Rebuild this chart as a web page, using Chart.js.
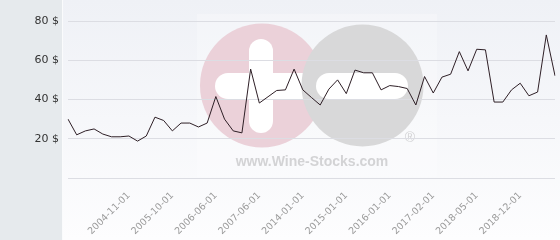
<!DOCTYPE html>
<html>
<head>
<meta charset="utf-8">
<script src="https://cdn.jsdelivr.net/npm/chart.js@4"></script>
<style>
  html, body { margin: 0; padding: 0; background: #fff; }
  #wrap { width: 560px; height: 240px; position: relative; }
</style>
</head>
<body>
<div id="wrap"><canvas id="priceChart"></canvas></div>
<script>
// Dates of each quote (irregular spacing)
const dates = [
    '2003-09-01', '2003-11-01', '2004-01-01', '2004-03-01', '2004-05-01', '2004-07-01', '2004-09-01', '2004-11-01',
    '2005-01-01', '2005-03-01', '2005-05-01', '2005-07-01', '2005-10-01',
    '2005-12-01', '2006-01-01', '2006-03-01', '2006-04-01', '2006-06-01',
    '2006-08-01', '2006-11-01', '2007-01-01', '2007-04-01', '2007-06-01',
    '2007-09-01', '2008-01-01', '2010-06-01', '2012-06-01', '2014-01-01',
    '2014-03-01', '2014-06-01', '2014-08-01', '2014-10-01', '2015-01-01',
    '2015-03-01', '2015-05-01', '2015-08-01', '2015-10-01', '2016-01-01',
    '2016-04-01', '2016-06-01', '2016-09-01', '2016-11-01', '2017-02-01',
    '2017-05-01', '2017-08-01', '2017-11-01', '2018-02-01', '2018-05-01',
    '2018-06-01', '2018-08-01', '2018-09-01', '2018-11-01', '2018-12-01',
    '2019-02-01', '2019-04-01', '2019-06-01', '2019-08-01'
];

// Price in $
const prices = [
    30, 22, 24, 25, 22.4, 21, 21, 21.4, 18.8, 21.4,
    31, 29.3, 24, 28, 28, 26, 28, 41.5, 30, 24,
    23, 55.5, 38.2, 41.4, 44.6, 44.9, 55.5, 44.9, 41, 37.2,
    45.3, 50, 43, 55, 53.6, 53.6, 44.9, 47.1, 46.6, 45.6,
    37.2, 51.7, 43.3, 51.4, 52.9, 64.4, 54.6, 65.6, 65.3, 38.7,
    38.7, 44.9, 48.3, 41.9, 43.8, 72.9, 52.1
];

// Dates that get a label on the x axis
const shownDates = [
    '2004-11-01', '2005-10-01', '2006-06-01', '2007-06-01', '2014-01-01',
    '2015-01-01', '2016-01-01', '2017-02-01', '2018-05-01', '2018-12-01'
];

const yTicks = [0, 20, 40, 60, 80];

// Background panels + watermark, painted under the grid
const backdrop = {
    id: 'backdrop',
    beforeDraw(chart) {
        const c = chart.ctx;
        const w = chart.width, h = chart.height;
        c.save();
        const g = c.createLinearGradient(0, 0, 0, h);
        g.addColorStop(0, '#eff1f6');
        g.addColorStop(1, '#fdfdfe');
        c.fillStyle = g;
        c.fillRect(0, 0, w, h);
        c.fillStyle = '#e6eaed';
        c.fillRect(0, 0, 62, h);
        c.fillStyle = '#fafbfc';
        c.fillRect(62, 0, 1, h);

        // watermark
        c.fillStyle = 'rgba(255,255,255,0.25)';
        c.fillRect(197, 14, 240, 163);
        c.fillStyle = '#ebd1d9';
        c.beginPath(); c.arc(262, 85.5, 62, 0, Math.PI * 2); c.fill();
        c.fillStyle = '#ffffff';
        roundRect(c, 249, 39, 24, 94, 12);
        roundRect(c, 215, 73, 100, 26, 13);
        c.fillStyle = '#d8d8d9';
        c.beginPath(); c.arc(362.5, 85.5, 61, 0, Math.PI * 2); c.fill();
        c.fillStyle = '#ffffff';
        roundRect(c, 316, 73, 92, 26, 13);
        c.fillStyle = '#d3d3d5';
        c.font = 'bold 14px "Liberation Sans"';
        c.textAlign = 'center';
        c.textBaseline = 'middle';
        c.fillText('www.Wine-Stocks.com', 312, 162);
        c.font = '14px "Liberation Sans"';
        c.fillText('®', 410, 138);
        c.restore();
    }
};

function roundRect(c, x, y, w, h, r) {
    c.beginPath();
    c.roundRect(x, y, w, h, r);
    c.fill();
}

Chart.defaults.font.family = '"DejaVu Sans"';

new Chart(document.getElementById('priceChart'), {
    type: 'line',
    data: {
        labels: dates,
        datasets: [{
            label: 'Price',
            data: prices,
            borderColor: '#2e1f26',
            borderWidth: 1,
            pointRadius: 0,
            tension: 0,
            fill: false
        }]
    },
    options: {
        responsive: true,
        maintainAspectRatio: false,
        animation: false,
        layout: { padding: { top: 21, right: 5, left: 0, bottom: 0 } },
        plugins: {
            legend: { display: false },
            tooltip: { enabled: false }
        },
        scales: {
            x: {
                grid: { display: false },
                border: { display: false },
                ticks: {
                    autoSkip: false,
                    minRotation: 45,
                    maxRotation: 45,
                    padding: 4,
                    color: '#9a9a9a',
                    font: { size: 9.5 },
                    callback: function(value, index) {
                        return shownDates.includes(dates[index]) ? dates[index] : null;
                    }
                },
                afterFit: (scale) => { scale.height = 62; }
            },
            y: {
                min: yTicks[0],
                max: yTicks[yTicks.length - 1],
                afterBuildTicks: (scale) => { scale.ticks = yTicks.map(v => ({ value: v })); },
                grid: { color: '#dcdde3', drawTicks: false },
                border: { display: false },
                ticks: {
                    padding: 9,
                    color: '#333',
                    font: { size: 11 },
                    callback: (value) => value === 0 ? '' : value + ' $'
                },
                afterFit: (scale) => { scale.width = 68; }
            }
        }
    },
    plugins: [backdrop]
});
</script>
</body>
</html>
